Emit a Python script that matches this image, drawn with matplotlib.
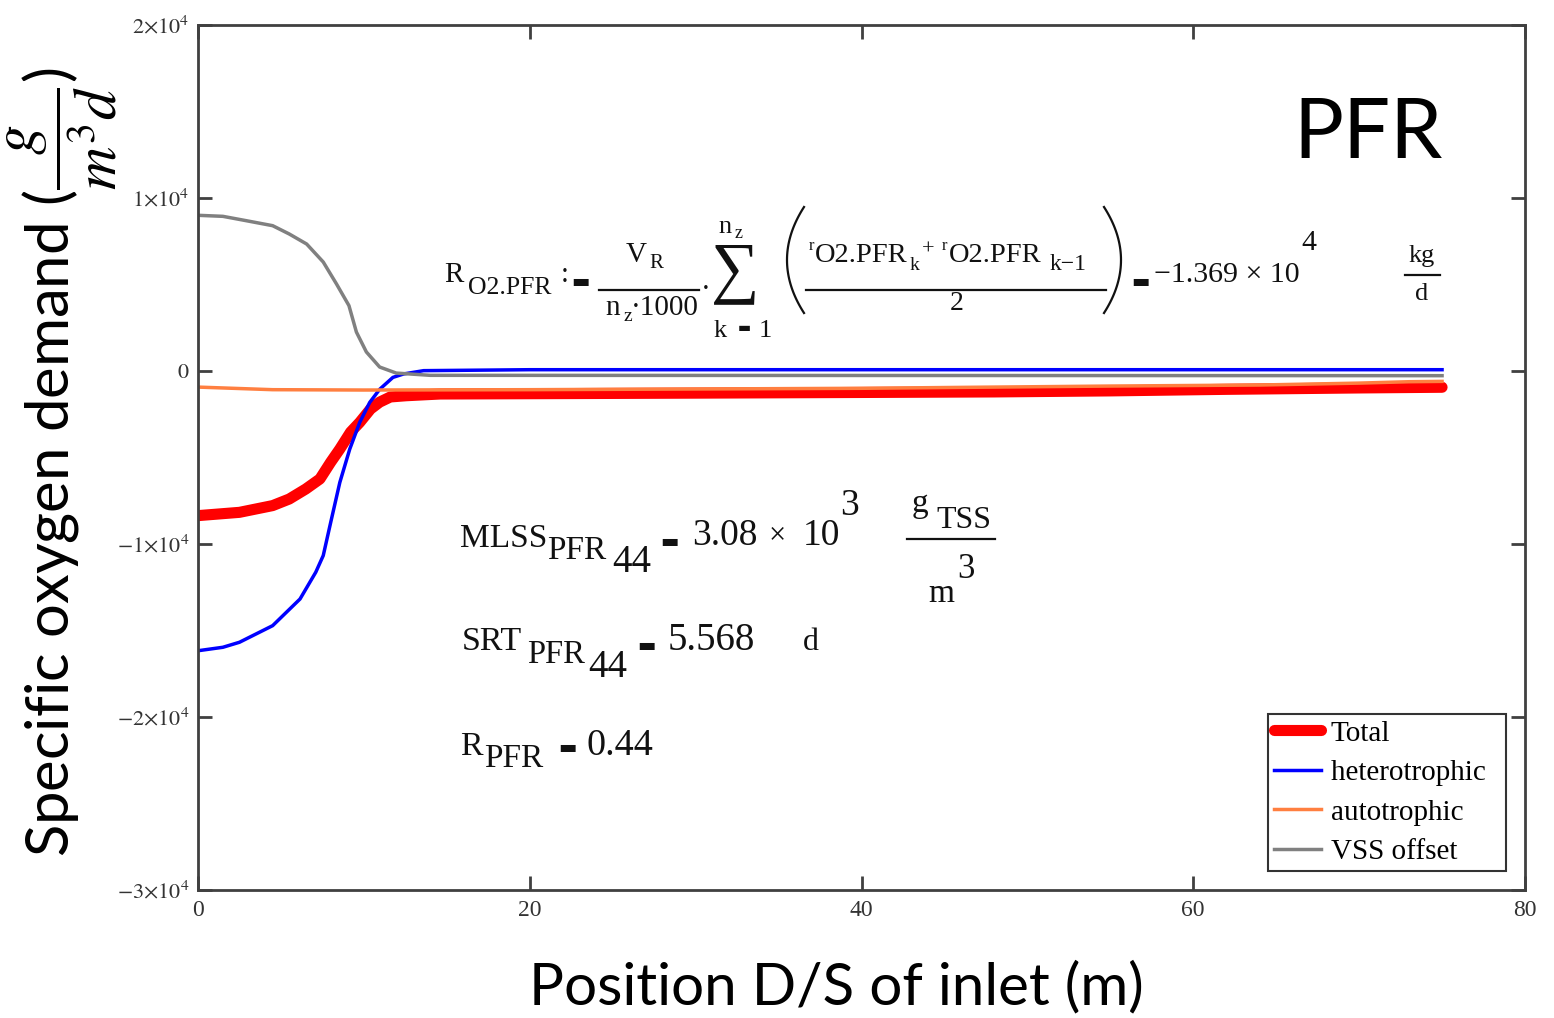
import numpy as np
import matplotlib
matplotlib.use("Agg")
import matplotlib.pyplot as plt
from matplotlib.lines import Line2D

plt.rcParams['mathtext.fontset'] = 'stix'
plt.rcParams['mathtext.default'] = 'rm'
plt.rcParams['font.family'] = ['Liberation Serif', 'DejaVu Serif']
plt.rcParams['xtick.labelsize'] = 17
plt.rcParams['ytick.labelsize'] = 16

# values (x in m, y in g/(m3 d))
total_x = [0, 2.5, 4.5, 5.5, 6.5, 7.35, 8, 8.55, 9.2, 9.75, 10.4, 10.95, 11.6,
           12.55, 14.6, 30, 48, 55, 62, 70, 75]
total_y = [-8360, -8170, -7780, -7400, -6820, -6240, -5270, -4510, -3530,
           -2970, -2200, -1800, -1500, -1430, -1330, -1280, -1210, -1150,
           -1060, -980, -940]

hetero_x = [0, 1.5, 2.5, 4.5, 6.15, 7.1, 7.55, 8, 8.55, 9.15, 9.75, 10.35,
            10.95, 11.75, 12.4, 13.6, 20, 75]
hetero_y = [-16170, -15970, -15680, -14720, -13180, -11630, -10670, -8750,
            -6440, -4510, -2970, -1820, -1060, -370, -170, 20, 75, 75]

auto_x = [0, 4.5, 10, 20, 40, 48, 55, 64, 70, 73, 75]
auto_y = [-930, -1080, -1100, -1080, -1000, -930, -870, -810, -700, -620, -600]

vss_x = [0, 1.5, 2.9, 4.5, 5.5, 6.55, 7.55, 8.35, 9.1, 9.55, 10.15, 10.95,
         11.95, 14, 75]
vss_y = [9000, 8940, 8690, 8400, 7920, 7340, 6300, 5030, 3780, 2250, 1100,
         230, -120, -250, -270]

yticks = [-30000, -20000, -10000, 0, 10000, 20000]
ytick_labels = [r'$-3{\times}10^4$', r'$-2{\times}10^4$', r'$-1{\times}10^4$',
                r'$0$', r'$1{\times}10^4$', r'$2{\times}10^4$']
xticks = [0, 20, 40, 60, 80]
xtick_labels = ['0', '20', '40', '60', '80']

W, H = 1554, 1018
fig = plt.figure(figsize=(W / 100, H / 100), dpi=100)
ax = fig.add_axes([198 / W, 1 - 890 / H, (1525 - 198) / W, (890 - 25) / H])

ax.plot(total_x, total_y, color='#ff0000', lw=8, label='Total', solid_capstyle='round')
ax.plot(hetero_x, hetero_y, color='#0000ff', lw=2.5, label='heterotrophic\u2002')
ax.plot(auto_x, auto_y, color='#ff7f40', lw=2.5, label='autotrophic')
ax.plot(vss_x, vss_y, color='#808080', lw=2.5, label='VSS offset')

ax.set_xlim(0, 80)
ax.set_ylim(-30000, 20000)
ax.set_xticks(xticks, xtick_labels)
ax.set_yticks(yticks, ytick_labels)
ax.tick_params(direction='in', length=10, width=2, color='#404040',
               top=True, right=True, labelcolor='#333333')
ax.tick_params(axis='x', pad=7)
ax.tick_params(axis='y', pad=6)
for s in ax.spines.values():
    s.set_color('#404040')
    s.set_linewidth(2)

leg = ax.legend(loc='lower right', prop={'size': 21},
                frameon=True, fancybox=False, framealpha=1, edgecolor='#333333',
                borderpad=0.2, handlelength=1.6, handletextpad=0.35,
                labelspacing=0.45, borderaxespad=0.65)
leg.get_frame().set_linewidth(1.5)

# axis labels
fig.text(62 / W, 1 - 462 / H,
         r'Specific oxygen demand ($\dfrac{\mathit{g}}{\mathit{m}^3\mathit{d}}$)',
         rotation=90, ha='center', va='center', family='Lato', fontsize=43)
fig.text(836 / W, 1 - 988 / H, 'Position D/S of inlet (m)',
         ha='center', va='center', family='Lato', fontsize=42)

fig.text(1368 / W, 1 - 135 / H, 'PFR', ha='center', va='center',
         family='Lato', fontsize=60)

ink = '#111111'


def runs(parts):
    # parts: (text, x_px, baseline_px, size)
    for s, x, y, size in parts:
        fig.text(x / W, 1 - y / H, s, ha='left', va='baseline',
                 fontsize=size, color=ink)


def bar(x, y, size=14):
    # Mathcad's evaluation sign
    fig.text(x / W, 1 - y / H, '\u25ac', ha='center', va='center',
             family='DejaVu Sans', fontsize=size, color=ink)


def rule(x0, x1, y):
    fig.add_artist(Line2D([x0 / W, x1 / W], [1 - y / H, 1 - y / H],
                          transform=fig.transFigure, color=ink, lw=1.6))


def paren(x_tip, y0, y1, depth, left=True):
    # tall thin bracket drawn as a parabola, tip at x_tip
    t = np.linspace(-1, 1, 41)
    xs = x_tip + (depth if left else -depth) * t ** 2
    ys = (y0 + y1) / 2 + t * (y1 - y0) / 2
    fig.add_artist(Line2D(xs / W, 1 - ys / H, transform=fig.transFigure,
                          color=ink, lw=1.6))


# R_O2.PFR := V_R/(n_z*1000) * sum(...) = -1.369e4 kg/d
runs([('R', 444, 282, 21), ('O2.PFR', 468, 294, 18.5), (':', 561, 282, 21)])
bar(580, 281)
runs([('V', 626, 262, 21), ('R', 649, 268, 15),
      ('n', 605, 315, 21), ('z', 624, 321, 14), ('\u00b71000', 631, 315, 21),
      ('\u00b7', 701, 297, 21)])
rule(599, 699, 290)
fig.text(735 / W, 1 - 273 / H, '\u2211', ha='center', va='center',
         fontsize=49, color=ink)
runs([('n', 718, 233, 19), ('z', 735, 238, 13),
      ('k', 714, 337, 19), ('1', 759, 337, 19)])
bar(744, 328, 10)
paren(787, 207, 313, 17, left=True)
runs([('r', 809, 250, 12), ('O2.PFR', 815, 262, 20.5), ('k', 910, 270, 14),
      ('+', 922, 255, 16),
      ('r', 942, 250, 12), ('O2.PFR', 949, 262, 20.5), ('k\u22121', 1050, 270, 17),
      ('2', 950, 310, 20)])
rule(806, 1106, 290)
paren(1121, 207, 313, 17, left=False)
bar(1140, 282)
runs([('\u22121.369 \u00d7 10', 1154, 282, 21.5), ('4', 1301, 250, 21.5)])
runs([('kg', 1409, 262, 19), ('d', 1415, 300, 19)])
rule(1405, 1440, 275)

# MLSS, SRT and R values
runs([('MLSS', 460, 547, 24), ('PFR', 547, 559, 24), ('44', 612, 572, 28),
      ('3.08', 692, 545, 27), ('\u00d7', 769, 543, 22),
      ('10', 803, 545, 27), ('3', 840, 515, 27)])
bar(669, 541)
runs([('g', 912, 512, 24), ('TSS', 936, 528, 23),
      ('m', 928, 602, 24), ('3', 957, 578, 25)])
rule(907, 995, 539)

runs([('SRT', 462, 650, 24.5), ('PFR', 527, 663, 23.5), ('44', 588, 677, 28),
      ('5.568', 668, 650, 28), ('d', 803, 650, 23)])
bar(646, 645)

runs([('R', 460, 755, 24.5), ('PFR', 484, 767, 24), ('0.44', 586, 755, 27.5)])
bar(567, 748)

fig.savefig('out.png', dpi=100)
